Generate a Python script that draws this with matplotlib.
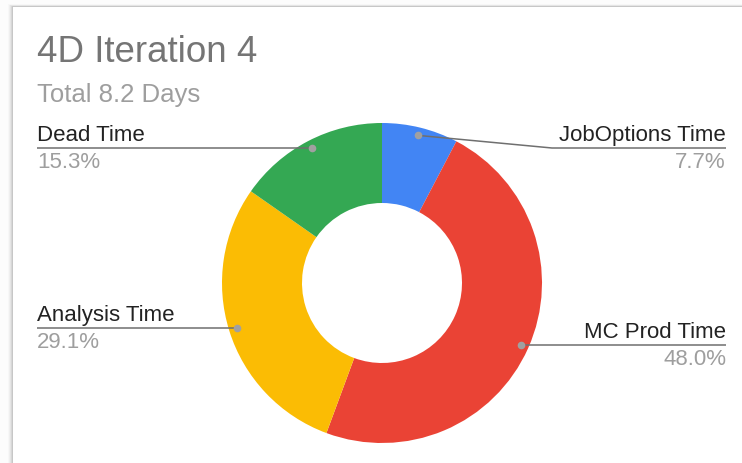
import matplotlib.pyplot as plt
from matplotlib.patches import Rectangle
import numpy as np

plt.rcParams['font.family'] = ['Liberation Sans', 'DejaVu Sans']

title = '4D Iteration 4'
subtitle = 'Total 8.2 Days'
categories = ['JobOptions Time', 'MC Prod Time', 'Analysis Time', 'Dead Time']
shares = [7.7, 48.0, 29.1, 15.3]
colors = ['#4285F4', '#EA4335', '#FBBC04', '#34A853']

W, H = 742, 463
fig = plt.figure(figsize=(W / 100, H / 100), dpi=100)
fig.patch.set_facecolor('#fcfcfc')
ax = fig.add_axes([0, 0, 1, 1])

# card with a soft drop shadow on the left/top
for i, a in enumerate([0.02, 0.03, 0.04, 0.06, 0.07]):
    off = 5 - i
    ax.add_patch(Rectangle((13 - off, -10), W + 20, H - 7 + 10 + off * 0.6,
                           facecolor='black', alpha=a, lw=0, zorder=0))
ax.add_patch(Rectangle((13, -10), W + 20, H - 7 + 10,
                       facecolor='white', lw=0, zorder=0.5))

cx, cy, R = 382, H - 283, 160
wedges, _ = ax.pie(shares, colors=colors, startangle=90, counterclock=False,
                   radius=R, center=(cx, cy), wedgeprops=dict(width=R * 0.5, lw=0),
                   frame=True)
for w in wedges:
    w.set_zorder(2)

ax.set_xlim(0, W)
ax.set_ylim(0, H)
ax.set_aspect('equal')
ax.axis('off')

ax.text(37, H - 61.7, title, fontsize=26.5, color='#757575', va='baseline', ha='left')
ax.text(37, H - 101.7, subtitle, fontsize=18.5, color='#9e9e9e', va='baseline', ha='left')

# label side, y of the leader line and its elbow x (None = at the dot)
layout = {
    'JobOptions Time': ('right', H - 148, 552),
    'MC Prod Time': ('right', None, None),
    'Analysis Time': ('left', None, None),
    'Dead Time': ('left', None, None),
}
left_x, right_x = 37, 726

for w, name, val in zip(wedges, categories, shares):
    mid = np.deg2rad((w.theta1 + w.theta2) / 2)
    dx, dy = cx + 0.95 * R * np.cos(mid), cy + 0.95 * R * np.sin(mid)
    side, ly, elbow = layout[name]
    if ly is None:
        ly = dy
    if elbow is None:
        elbow = dx
    end = right_x if side == 'right' else left_x
    ax.plot([dx, elbow, end], [dy, ly, ly], color='#6f6f6f', lw=1.1,
            zorder=3, solid_capstyle='butt')
    ax.plot(dx, dy, 'o', ms=5.5, color='#a0a0a0', mec='none', zorder=4)
    ax.text(end, ly + 7, name, fontsize=16, color='#222222', ha=side, va='baseline')
    ax.text(end, ly - 20, f'{val:.1f}%', fontsize=16, color='#9e9e9e',
            ha=side, va='baseline')

fig.savefig('out.png', dpi=100)
